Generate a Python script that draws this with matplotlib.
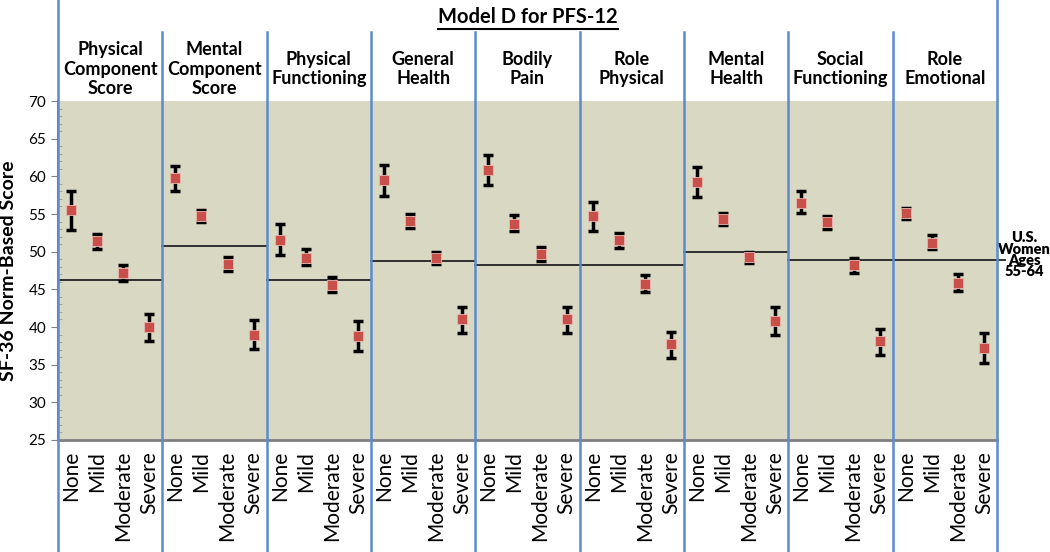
import numpy as np
import matplotlib
matplotlib.use("Agg")
import matplotlib.pyplot as plt
from matplotlib.lines import Line2D
import matplotlib.transforms as mtransforms
from matplotlib.ticker import MultipleLocator

plt.rcParams['font.family'] = ['Lato', 'DejaVu Sans']

panels = ["Physical\nComponent\nScore", "Mental\nComponent\nScore", "Physical\nFunctioning",
          "General\nHealth", "Bodily\nPain", "Role\nPhysical", "Mental\nHealth",
          "Social\nFunctioning", "Role\nEmotional"]
levels = ["None", "Mild", "Moderate", "Severe"]

# mean, lower, upper for None/Mild/Moderate/Severe in each panel
means = [[55.5, 51.4, 47.2, 40.0],
         [59.8, 54.7, 48.3, 39.0],
         [51.6, 49.1, 45.6, 38.8],
         [59.5, 54.1, 49.2, 41.0],
         [60.9, 53.7, 49.7, 41.0],
         [54.7, 51.5, 45.7, 37.7],
         [59.3, 54.4, 49.3, 40.8],
         [56.5, 53.9, 48.2, 38.1],
         [55.2, 51.2, 45.9, 37.2]]
lower = [[52.9, 50.4, 46.1, 38.2],
         [58.0, 53.9, 47.4, 37.1],
         [49.5, 48.2, 44.6, 36.8],
         [57.4, 53.1, 48.3, 39.2],
         [58.9, 52.7, 48.7, 39.2],
         [52.7, 50.5, 44.7, 35.9],
         [57.3, 53.6, 48.5, 38.9],
         [55.1, 53.0, 47.2, 36.3],
         [54.4, 50.3, 44.8, 35.2]]
upper = [[58.1, 52.4, 48.2, 41.7],
         [61.4, 55.5, 49.3, 40.9],
         [53.7, 50.4, 46.7, 40.8],
         [61.5, 55.0, 50.0, 42.7],
         [62.8, 54.9, 50.6, 42.7],
         [56.6, 52.5, 46.9, 39.4],
         [61.2, 55.2, 50.0, 42.7],
         [58.0, 54.7, 49.2, 39.7],
         [55.8, 52.2, 47.0, 39.2]]
norms = [46.2, 50.7, 46.2, 48.7, 48.2, 48.2, 50.0, 48.9, 48.9]

fig = plt.figure(figsize=(10.5, 5.52), dpi=100)
ax = fig.add_axes([0.0552, 0.2029, 0.8943, 0.6141])
ax.set_facecolor('#D9D9C3')

n = len(panels)
blue = '#5B8BD0'
trans = mtransforms.blended_transform_factory(ax.transData, ax.transAxes)

xs, labs = [], []
for i in range(n):
    x = np.arange(4) + 4 * i + 0.5
    m = np.array(means[i])
    err = [m - np.array(lower[i]), np.array(upper[i]) - m]
    ax.errorbar(x, m, yerr=err, fmt='none', ecolor='black', elinewidth=2.5,
                capsize=3.5, capthick=2.5, zorder=3)
    ax.plot(x, m, 's', color='#C9504A', markersize=7.5, markeredgecolor='#E9B9B0',
            markeredgewidth=0.6, zorder=4)
    x_end = 4 * i + 4 + (0.3 if i == n - 1 else 0)
    ax.plot([4 * i, x_end], [norms[i]] * 2, color='#222222', lw=1.3, zorder=2,
            clip_on=False)
    ax.text(4 * i + 2, 1.094, panels[i], transform=trans, ha='center', va='center',
            fontsize=13, fontweight='bold', linespacing=1.18)
    xs.extend(x)
    labs.extend(levels)

# blue separators
for k in range(n + 1):
    top = 1.298 if k in (0, n) else 1.2035
    ax.axvline(4 * k, ymin=-0.33, ymax=top, color=blue, lw=1.8, clip_on=False, zorder=5)

ax.set_xlim(0, 4 * n)
ax.set_ylim(25, 70)
ax.set_xticks(xs)
ax.set_xticklabels(labs, rotation=90, fontsize=15, va='top')
ax.tick_params(axis='x', length=0, pad=8)
ax.yaxis.set_major_locator(MultipleLocator(5))
ax.yaxis.set_minor_locator(MultipleLocator(1))
ax.tick_params(axis='y', which='major', direction='out', length=5, color='#808080',
               labelsize=11)
ax.tick_params(axis='y', which='minor', direction='in', length=3, color='#9a9a9a')
ax.set_ylabel("SF-36 Norm-Based Score", fontsize=14, fontweight='bold', labelpad=8)

for s in ['top', 'right']:
    ax.spines[s].set_visible(False)
ax.spines['bottom'].set_color('#808080')
ax.spines['bottom'].set_linewidth(2)
ax.spines['left'].set_color('#808080')
ax.spines['left'].set_linewidth(1.5)

ax.text(4 * n + 1.05, 49.6, "U.S.\nWomen\nAges\n55-64", ha='center', va='center',
        fontsize=10.5, fontweight='heavy', linespacing=0.85)

title = fig.text(0.503, 1 - 17 / 552, "Model D for PFS-12", ha='center', va='center',
                 fontsize=14.5, fontweight='bold')
fig.canvas.draw()
bb = title.get_window_extent()
W, H = fig.bbox.width, fig.bbox.height
uy = (bb.y0 - 2) / H
fig.add_artist(Line2D([bb.x0 / W, bb.x1 / W], [uy, uy], color='black', lw=1.5))

fig.savefig("out.png", dpi=100)
